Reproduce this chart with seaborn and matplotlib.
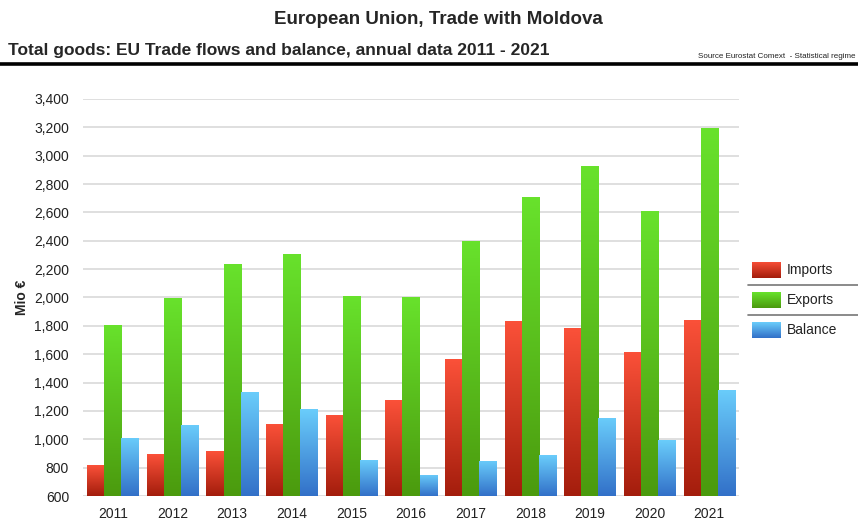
import numpy as np
import pandas as pd
import matplotlib
matplotlib.use("Agg")
import matplotlib.pyplot as plt
import seaborn as sns
from matplotlib.colors import LinearSegmentedColormap

years = ["2011", "2012", "2013", "2014", "2015", "2016", "2017", "2018", "2019", "2020", "2021"]
imports = [817, 894, 915, 1108, 1173, 1274, 1565, 1837, 1783, 1619, 1842]
exports = [1807, 1995, 2235, 2308, 2014, 2000, 2400, 2708, 2927, 2610, 3195]
balance = [1012, 1103, 1332, 1211, 854, 749, 847, 889, 1151, 993, 1351]
series = ["Imports", "Exports", "Balance"]
yticks = list(range(600, 3401, 200))

# gradient (top colour, bottom colour)
grad = {
    "Imports": ("#fb5139", "#a31d0c"),
    "Exports": ("#68e22c", "#4b9a0e"),
    "Balance": ("#6acdfb", "#3270c8"),
}

df = pd.DataFrame({
    "Year": years * 3,
    "Series": [s for s in series for _ in years],
    "Value": imports + exports + balance,
})

sns.set_theme(style="white")
plt.rcParams["font.family"] = ["Liberation Sans", "DejaVu Sans"]

fig = plt.figure(figsize=(8.58, 5.23), dpi=100)
ax = fig.add_axes([83 / 858, 1 - 496 / 523, 656 / 858, (496 - 99) / 523])

sns.barplot(data=df, x="Year", y="Value", hue="Series", hue_order=series,
            palette=[grad[s][0] for s in series], width=0.86, gap=0.0,
            ax=ax, legend=False, saturation=1)

ax.set_ylim(600, 3400)
ax.set_yticks(yticks)
ax.set_yticklabels([f"{v:,}" for v in yticks], fontsize=10, color="#222222")
ax.set_xlim(-0.5, len(years) - 0.5)
ax.tick_params(axis="x", labelsize=10, colors="#222222", length=0, pad=8)
ax.tick_params(axis="y", length=0, pad=10)
ax.set_xlabel("")
ax.set_ylabel("Mio €", fontsize=10, fontweight="bold", labelpad=4)
ax.yaxis.grid(True, color="#d9d9d9", linewidth=1.2)
ax.set_axisbelow(True)
for sp in ax.spines.values():
    sp.set_visible(False)

# gradient fill of bars
nyr = len(years)
for i, p in enumerate(ax.patches[: 3 * nyr]):
    s = series[i // nyr]
    cmap = LinearSegmentedColormap.from_list(s, [grad[s][1], grad[s][0]])
    x0, y0 = p.get_x(), p.get_y()
    w, h = p.get_width(), p.get_height()
    img = ax.imshow(np.linspace(0, 1, 256).reshape(-1, 1), cmap=cmap, aspect="auto",
                    origin="lower", extent=[x0, x0 + w, 600, y0 + h], zorder=p.get_zorder() + 0.1)
    img.set_clip_path(p)
    p.set_edgecolor("none")
ax.set_xlim(-0.5, len(years) - 0.5)
ax.set_ylim(600, 3400)

# titles
fig.text(438 / 858, 1 - 19 / 523, "European Union, Trade with Moldova", ha="center", va="center",
         fontsize=13.5, fontweight="bold")
fig.text(8 / 858, 1 - 50 / 523, "Total goods: EU Trade flows and balance, annual data 2011 - 2021",
         ha="left", va="center", fontsize=12.5, fontweight="bold")
fig.text(856 / 858, 1 - 57 / 523, "Source Eurostat Comext  - Statistical regime", ha="right",
         va="center", fontsize=5.8, color="#222222")
fig.add_artist(plt.Line2D([0, 1], [1 - 64 / 523, 1 - 64 / 523], color="black", linewidth=2.6,
                          transform=fig.transFigure))

# legend
for k, s in enumerate(series):
    yc = 270 + 30 * k
    lax = fig.add_axes([752 / 858, 1 - (yc + 8) / 523, 29 / 858, 16 / 523])
    cmap = LinearSegmentedColormap.from_list(s + "l", [grad[s][1], grad[s][0]])
    lax.imshow(np.linspace(0, 1, 64).reshape(-1, 1), cmap=cmap, aspect="auto", origin="lower")
    lax.axis("off")
    fig.text(787 / 858, 1 - yc / 523, s, ha="left", va="center", fontsize=10, color="#222222")
    if k < 2:
        ysep = 1 - (yc + 15) / 523
        fig.add_artist(plt.Line2D([748 / 858, 1], [ysep, ysep], color="#777777", linewidth=1.2,
                                  transform=fig.transFigure))

fig.savefig("out.png", dpi=100)
